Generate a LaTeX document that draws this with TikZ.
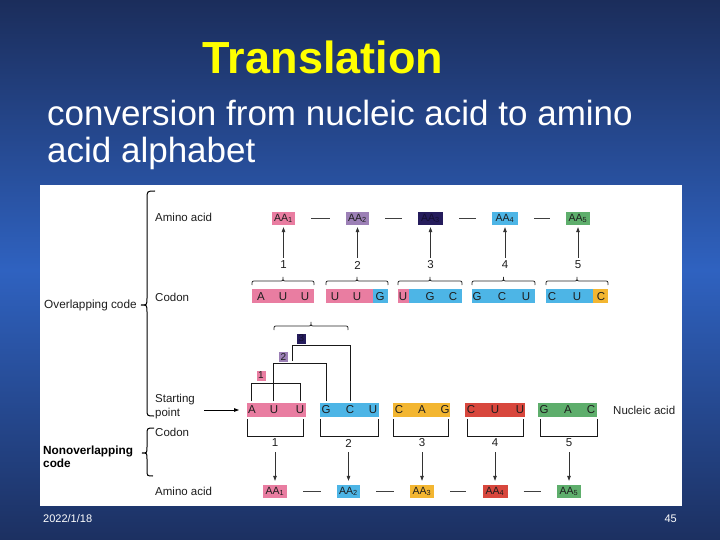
\documentclass[tikz,border=0pt]{standalone}
\usepackage{fontspec}
\setmainfont{Liberation Sans}
\usetikzlibrary{arrows.meta}
\definecolor{bgdark}{HTML}{1B2D5B}
\definecolor{bglight}{HTML}{2F62C0}
\definecolor{bgbot}{HTML}{1C3061}
\definecolor{pinkc}{HTML}{E97DA1}
\definecolor{bluec}{HTML}{4DB5E6}
\definecolor{yellowc}{HTML}{F3B631}
\definecolor{redc}{HTML}{D8473D}
\definecolor{greenc}{HTML}{5EAE6C}
\definecolor{purplec}{HTML}{9C80B6}
\definecolor{navyc}{HTML}{251C5C}
\definecolor{txt}{HTML}{1E1E1E}
\definecolor{titley}{HTML}{FFFF00}
\newcommand{\mybrup}[3]{%
  \draw[brc] (#1,#3) .. controls (#1,{#3-4}) .. ({#1+4},{#3-4}) -- ({(#1+#2)/2-4},{#3-4})
    .. controls ({(#1+#2)/2},{#3-4}) .. ({(#1+#2)/2},{#3-8})
    .. controls ({(#1+#2)/2},{#3-4}) .. ({(#1+#2)/2+4},{#3-4}) -- ({#2-4},{#3-4})
    .. controls (#2,{#3-4}) .. (#2,#3);}
\begin{document}
\begin{tikzpicture}[x=1pt,y=-1pt,
  lab/.style={font=\fontsize{11.5}{13}\selectfont, text=txt, inner sep=0pt, anchor=west},
  aa/.style={font=\fontsize{10.5}{11}\selectfont, text=txt, inner xsep=1pt, inner ysep=0pt, minimum height=13pt, minimum width=23pt},
  num/.style={font=\fontsize{11.5}{12}\selectfont, text=txt, inner sep=0pt},
  nuc/.style={font=\fontsize{11.5}{12}\selectfont, text=txt, inner sep=0pt},
  sbox/.style={font=\fontsize{10}{10}\selectfont, text=txt, inner sep=0pt, minimum width=9pt, minimum height=10pt},
  arr/.style={-{Triangle[length=5pt,width=3.6pt]}, line width=0.6pt, draw=black!80},
  aadash/.style={line width=0.7pt, draw=black!75, shorten >=16pt, shorten <=16pt},
  brc/.style={line width=0.8pt, draw=black!85},
  stc/.style={line width=1pt, draw=black!90},
  bigbr/.style={line width=1pt, draw=black}]
\useasboundingbox (0,0) rectangle (720,540);
\shade[top color=bgdark, bottom color=bgbot, middle color=bglight] (0,0) rectangle (720,540);
% panel
\fill[white] (40,185) rectangle (682,506);
% titles
\node[font=\fontsize{45}{48}\selectfont\bfseries, text=titley, anchor=base, inner sep=0pt] (title) at (323,74) {Translation};
\node[font=\fontsize{35}{38}\selectfont, text=white, anchor=base west, inner sep=0pt] (sub1) at (47,126) {conversion from nucleic acid to amino};
\node[font=\fontsize{35}{38}\selectfont, text=white, anchor=base west, inner sep=0pt] (sub2) at (47,163) {acid alphabet};
% footer
\node[font=\fontsize{11}{12}\selectfont, text=white, anchor=west, inner sep=0pt] (date) at (43,519) {2022/1/18};
\node[font=\fontsize{11}{12}\selectfont, text=white, anchor=east, inner sep=0pt] (page) at (677,519) {45};
% left labels
\node[lab, font=\fontsize{11.8}{13}\selectfont] (ovl) at (44,305) {Overlapping code};
\node[lab, font=\fontsize{11.8}{13}\selectfont\bfseries, align=left, text=black] (novl) at (43,456.5) {Nonoverlapping\\code};
\draw[bigbr] (155,191) .. controls (147,191) .. (147,199) -- (147,298) .. controls (147,305) .. (141,305)
  .. controls (147,305) .. (147,312) -- (147,409) .. controls (147,416) .. (154,416);
\draw[bigbr] (154,428) .. controls (147,428) .. (147,435) -- (147,447) .. controls (147,453) .. (142,453)
  .. controls (147,453) .. (147,459) -- (147,470) .. controls (147,476) .. (153,476);
\node[lab] (aalab1) at (155,217) {Amino acid};
\node[lab] (codlab1) at (155,297) {Codon};
\node[lab, align=left, font=\fontsize{11.5}{14}\selectfont] (sp) at (155,407) {Starting\\point};
\node[lab] (codlab2) at (155,432) {Codon};
\node[lab] (aalab2) at (155,491) {Amino acid};
\node[lab] (nalab) at (613,410) {Nucleic acid};
\coordinate (spa) at (204,410);
\coordinate (spb) at (239,410);
\draw[arr, line width=0.8pt, draw=black] (spa) -- (spb);
% ---------- overlapping: top amino acids ----------
\node[aa, fill=pinkc] (t1) at (283.5,218.5) {AA\textsubscript{1}};
\node[aa, fill=purplec] (t2) at (357.5,218.5) {AA\textsubscript{2}};
\node[aa, fill=navyc, text=navyc!55!black, minimum width=25pt] (t3) at (430.5,218.5) {AA\textsubscript{3}};
\node[aa, fill=bluec, minimum width=26pt] (t4) at (505,218.5) {AA\textsubscript{4}};
\node[aa, fill=greenc, minimum width=24pt] (t5) at (578,218.5) {AA\textsubscript{5}};
\draw[aadash] (t1) -- (t2);
\draw[aadash] (t2) -- (t3);
\draw[aadash] (t3) -- (t4);
\draw[aadash] (t4) -- (t5);
\foreach \x [count=\i] in {283.5,357.5,430.5,505,578}{
  \node[num] (n\i) at (\x,265) {\i};
  \draw[arr, shorten <=3pt, shorten >=2pt] (n\i) -- (t\i);
}
\mybrup{252}{314}{285}
\mybrup{326}{388}{285}
\mybrup{398}{462}{285}
\mybrup{472}{535}{285}
\mybrup{546}{608}{285}
% codon row (overlapping)
\fill[pinkc] (252,289) rectangle (314,303);
\fill[pinkc] (326,289) rectangle (373,303);
\fill[bluec] (373,289) rectangle (388,303);
\fill[pinkc] (398,289) rectangle (409,303);
\fill[bluec] (409,289) rectangle (462,303);
\fill[bluec] (472,289) rectangle (535,303);
\fill[bluec] (546,289) rectangle (593,303);
\fill[yellowc] (593,289) rectangle (608,303);
\foreach \x/\l [count=\i] in {261/A,283/U,305/U,335/U,357/U,380/G,403/U,430/G,453/C,477/G,502/C,526/U,552/C,577/U,601/C}{
  \node[nuc] (u\i) at (\x,296.5) {\l};
}
% ---------- staircase ----------
\mybrup{274}{348}{330}
\node[sbox, fill=navyc, text=navyc!55!black] (s3) at (301.5,338.5) {3};
\node[sbox, fill=purplec] (s2) at (283.5,357) {2};
\node[sbox, fill=pinkc] (s1) at (261,375.5) {1};
\draw[stc] (251,401) -- (251,383) -- (300,383) -- (300,401);
\draw[stc] (273,401) -- (273,363) -- (326,363) -- (326,401);
\draw[stc] (292,361) -- (292,345) -- (350,345) -- (350,401);
% ---------- nonoverlapping nucleic acid ----------
\fill[pinkc] (247,403) rectangle (306,417);
\fill[bluec] (320,403) rectangle (379,417);
\fill[yellowc] (393,403) rectangle (450,417);
\fill[redc] (465,403) rectangle (525,417);
\fill[greenc] (538,403) rectangle (597,417);
\foreach \x/\l [count=\i] in {252/A,274/U,300/U,326/G,350/C,373/U,399/C,422/A,445/G,471/C,495/U,520/U,544/G,568/A,591/C}{
  \node[nuc] (w\i) at (\x,410) {\l};
}
\foreach \a/\b in {247/303,320/378,393/448,467/523,540/597}{
  \draw[stc] (\a,419) -- (\a,436) -- (\b,436) -- (\b,419);
}
\node[aa, fill=pinkc, minimum width=24pt] (b1) at (275,491.5) {AA\textsubscript{1}};
\node[aa, fill=bluec] (b2) at (348.5,491.5) {AA\textsubscript{2}};
\node[aa, fill=yellowc, minimum width=24pt] (b3) at (422,491.5) {AA\textsubscript{3}};
\node[aa, fill=redc, minimum width=25pt] (b4) at (495,491.5) {AA\textsubscript{4}};
\node[aa, fill=greenc, minimum width=24pt] (b5) at (569,491.5) {AA\textsubscript{5}};
\draw[aadash] (b1) -- (b2);
\draw[aadash] (b2) -- (b3);
\draw[aadash] (b3) -- (b4);
\draw[aadash] (b4) -- (b5);
\foreach \x [count=\i] in {275,348.5,422,495,569}{
  \node[num] (m\i) at (\x,443) {\i};
  \draw[arr, shorten <=5pt, shorten >=4pt] (m\i) -- (b\i);
}
\end{tikzpicture}
\end{document}
